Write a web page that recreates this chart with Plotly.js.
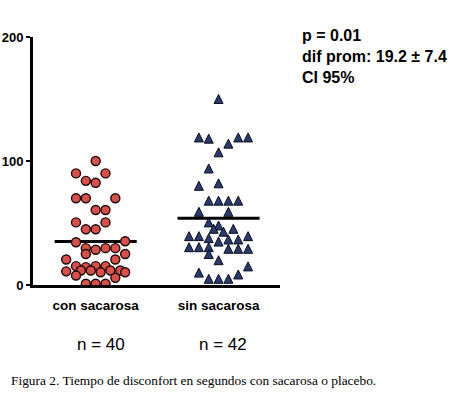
<!DOCTYPE html>
<html><head><meta charset="utf-8">
<script src="https://cdn.plot.ly/plotly-3.0.1.min.js"></script>
<style>html,body{margin:0;padding:0;background:#fff}#chart{width:450px;height:399px}</style>
</head><body><div id="chart"></div>
<script>
// ---- data ----
const categories = ["con sacarosa", "sin sacarosa"];
const groupCounts = ["n = 40", "n = 42"];
// seconds of discomfort, "con sacarosa" (40 infants)
const conValues = [100, 90, 90, 84, 82.5, 70, 70, 70, 60.5, 60.5,
  50.5, 50.5, 45, 45, 34.5, 35.3, 29.7, 28.4, 29.7, 29.7,
  25, 25, 20.6, 20.6, 15.2, 14.4, 15.2, 15.2, 11, 11.7,
  11.7, 10.3, 11.7, 11.7, 10.3, 7.7, 5.8, 1, 1, 1];
// scatter column (jitter slot) of each point
const conSlots = [0, -2, 1, -1, 0, -2, -1, 2, 0, 1,
  -2, 1, -1, 0, -2, 3, -1, 0, 1, 2,
  -1, 3, -3, 2, -2, -1, 0, 1, -3, -1.5,
  -0.5, 0.5, 1.5, 2.5, 3, -2, 2, -1, 0, 1];
// seconds of discomfort, "sin sacarosa" (42 infants)
const sinValues = [150, 119, 118, 119, 119, 114, 107, 94, 80, 82,
  68, 68, 68, 68, 59, 59, 50.5, 48, 45.3, 45.3,
  43, 39.4, 39.4, 37.8, 39.4, 36.7, 36.7, 35, 30.5, 30.5,
  30.5, 29.2, 29.2, 29.2, 25, 20, 15, 10, 8.5, 5,
  5, 5];
const sinSlots = [0, -2, -1, 2, 3, 1, 0, -1, -2, 0,
  -1, 0, 1, 2, -2, 1, -1, 0, -0.5, 1.5,
  0.5, -3, -2, -1, 3, 1, 2, 0, -3, -2,
  -1, 1, 2, 3, -1, 0, 3, -2, 2, -1,
  0, 1];
const yTickVals = [0, 100, 200];
const statsLines = ["p = 0.01", "dif prom: 19.2 \u00B1 7.4", "CI 95%"];
const caption = "Figura 2. Tiempo de disconfort en segundos con sacarosa o placebo.";

// ---- styling / geometry ----
const W = 450, H = 399;
const M = {l: 33, r: 170, t: 37, b: 114};
const plotW = W - M.l - M.r, plotH = H - M.t - M.b;
const slotWidth = 0.08;      // x units per jitter column
const meanHalf = 0.334;      // half length of mean bar (x units)
const triSize = 9;
const yMax = 200;
const triOffset = (triSize / 2) / (plotH / yMax); // arrow-up apex sits on the point
const sans = "Liberation Sans, Arial, sans-serif";

const mean = a => a.reduce((s, v) => s + v, 0) / a.length;
const conX = conSlots.map(s => 1 + s * slotWidth);
const sinX = sinSlots.map(s => 2 + s * slotWidth);
const means = [mean(conValues), mean(sinValues)];

const traces = [
  {x: [1 - meanHalf, 1 + meanHalf], y: [means[0], means[0]], mode: "lines",
   line: {color: "#000", width: 3}, hoverinfo: "skip"},
  {x: [2 - meanHalf, 2 + meanHalf], y: [means[1], means[1]], mode: "lines",
   line: {color: "#000", width: 3}, hoverinfo: "skip"},
  {x: conX, y: conValues, mode: "markers", type: "scatter",
   marker: {symbol: "circle", size: 9, color: "#da4f4a", line: {color: "#1a0a0a", width: 1.4}}},
  {x: sinX, y: sinValues, mode: "markers", type: "scatter", yaxis: "y2",
   marker: {symbol: "arrow-up", size: triSize, color: "#2a3a6c", line: {color: "#0b0f1e", width: 1}}}
];

const annotations = [
  {xref: "paper", yref: "paper", x: (300 - M.l) / plotW, y: (H - M.b - 25) / plotH,
   xanchor: "left", yanchor: "top", align: "left", showarrow: false,
   text: statsLines.join("<br>"),
   font: {family: sans, size: 16, color: "#000", weight: "bold"}},
  {xref: "paper", yref: "paper", x: (9 - M.l) / plotW, y: -(380 - (H - M.b)) / plotH,
   xanchor: "left", yanchor: "middle", showarrow: false, text: caption,
   font: {family: "Liberation Serif, Times New Roman, serif", size: 13.4, color: "#000"}}
];
groupCounts.forEach((t, i) => annotations.push({
  xref: "x", yref: "paper", x: i + 1, y: -(344 - (H - M.b)) / plotH, xshift: 5 - i,
  xanchor: "center", yanchor: "middle", showarrow: false, text: t,
  font: {family: sans, size: 17, color: "#000"}}));

const layout = {
  width: W, height: H, margin: M, showlegend: false,
  paper_bgcolor: "#fff", plot_bgcolor: "#fff",
  xaxis: {range: [0.49, 2.5], showline: true, linewidth: 3, linecolor: "#000",
    tickvals: [1, 2], ticktext: categories, ticks: "", showgrid: false, zeroline: false,
    ticklabelstandoff: 6,
    tickfont: {family: sans, size: 13.5, color: "#000", weight: "bold"}},
  yaxis: {range: [0, yMax], showline: true, linewidth: 3, linecolor: "#000",
    tickvals: yTickVals, ticks: "outside", ticklen: 4, tickwidth: 2, tickcolor: "#000",
    showgrid: false, zeroline: false,
    tickfont: {family: sans, size: 13, color: "#000", weight: "bold"}},
  yaxis2: {overlaying: "y", range: [-triOffset, yMax - triOffset], visible: false},
  annotations: annotations
};
Plotly.newPlot("chart", traces, layout, {displayModeBar: false, staticPlot: true});
</script></body></html>
